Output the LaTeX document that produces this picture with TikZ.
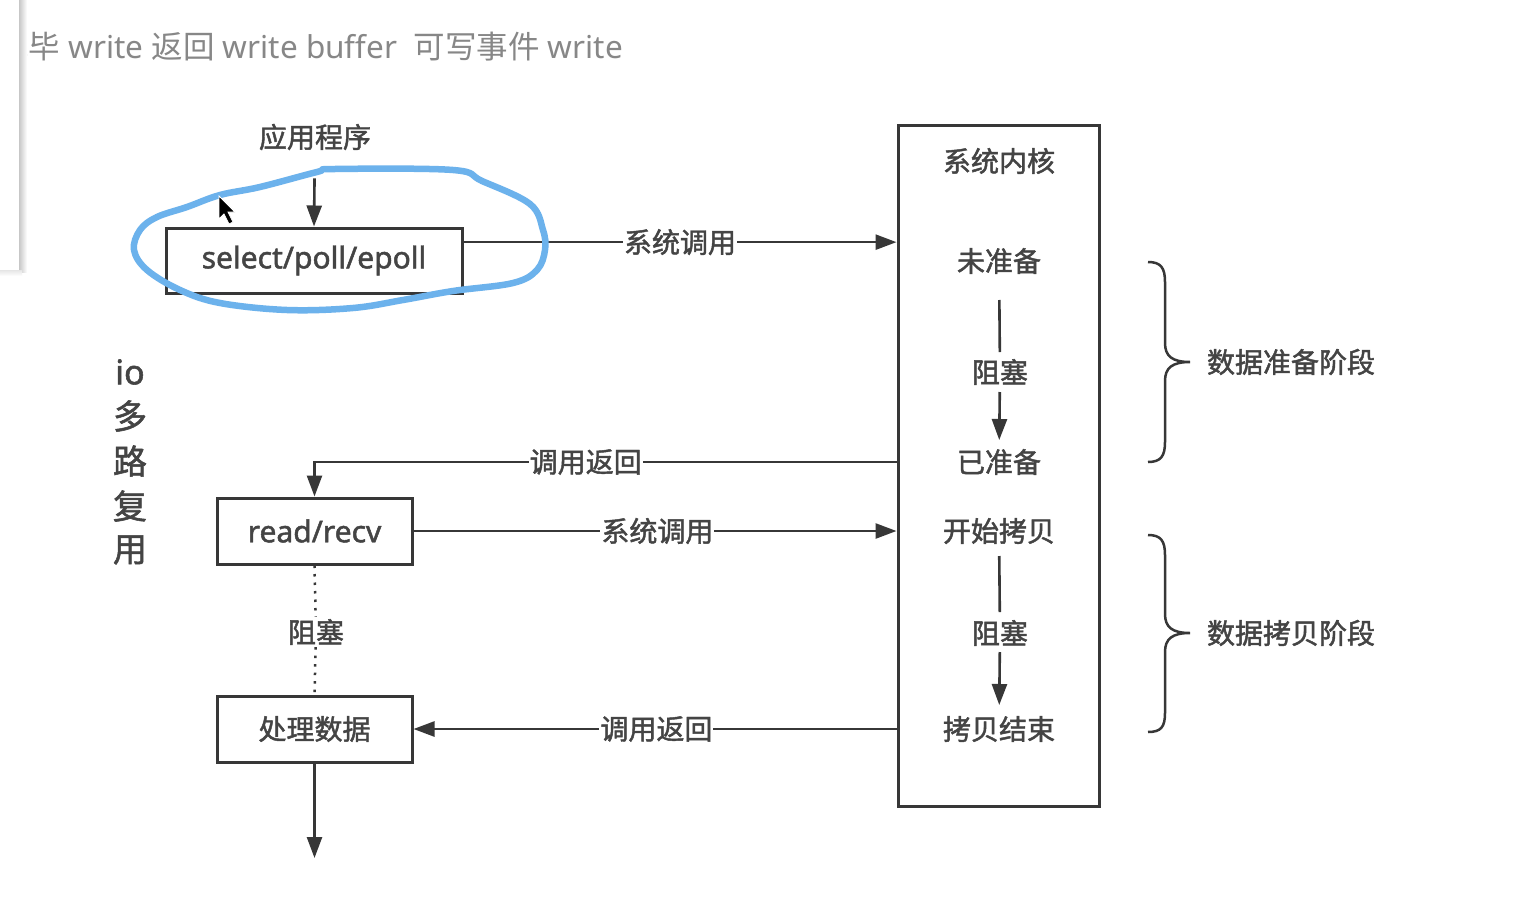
\documentclass[tikz,border=0pt]{standalone}
\usepackage{fontspec}
\setmainfont{Noto Sans CJK SC}
\newfontfamily\dia{Noto Sans CJK SC}[FakeBold=1.6]
\newfontfamily\dialat{Noto Sans}[FakeBold=1.6]
\newfontfamily\toplat{Noto Sans}
\usetikzlibrary{arrows.meta,calc}
\definecolor{ln}{RGB}{55,55,55}
\definecolor{tx}{RGB}{68,68,68}
\definecolor{hl}{RGB}{108,178,236}
\definecolor{topgray}{RGB}{135,135,135}
\begin{document}
\begin{tikzpicture}[x=1pt,y=-1pt,
  lbl/.style={text=tx, font=\dia\fontsize{28}{32}\selectfont, inner sep=2pt},
  bigl/.style={text=tx, font=\dia\fontsize{34}{38}\selectfont, inner sep=1pt},
  box/.style={draw=ln, line width=3pt, fill=white, text=tx, font=\dia\fontsize{28}{32}\selectfont},
  conn/.style={draw=ln, line width=2.6pt},
  arr/.style={conn, -{Triangle[length=21pt,width=15pt]}},
  dotl/.style={draw=ln, line width=2.5pt, dash pattern=on 2.5pt off 6pt},
  onl/.style={lbl, fill=white, inner xsep=1pt, inner ysep=1pt},
  brc/.style={draw=ln, line width=2.5pt}]
\useasboundingbox (0,0) rectangle (1528,918);
\fill[white] (0,0) rectangle (1528,918);
% top gray text, partly hidden behind a panel
\node[anchor=west, inner sep=0pt, text=topgray, font=\fontsize{31.5}{36}\selectfont] (top) at (-3,46)
  {完毕{\toplat\ write }返回{\toplat\ write buffer\ \ }可写事件{\toplat\ write}};
\fill[white] (0,0) rectangle (21,272);
\shade[left color=black!22, right color=white] (19,0) rectangle (27,272);
\shade[top color=black!10, bottom color=white] (0,270) rectangle (22,276);
% vertical title
\node[bigl] (t1) at (130,372) {{\dialat io}};
\node[bigl] (t2) at (130,416) {多};
\node[bigl] (t3) at (130,461) {路};
\node[bigl] (t4) at (130,506) {复};
\node[bigl] (t5) at (130,550) {用};
% left column
\node[lbl] (app) at (315,137) {应用程序};
\node[box, minimum width=296pt, minimum height=65pt] (sel) at (314,260.5) {{\dialat\fontsize{30}{34}\selectfont select/poll/epoll}};
\node[box, minimum width=195pt, minimum height=66pt] (read) at (314.5,531) {{\dialat\fontsize{30}{34}\selectfont read/recv}};
\node[lbl] (zs3) at (316,632) {阻塞};
\node[box, minimum width=195pt, minimum height=66pt] (proc) at (314.5,729) {处理数据};
\coordinate (endp) at (314.5,858);
% kernel
\node[draw=ln, line width=3pt, minimum width=201pt, minimum height=681pt] (kern) at (998.5,465.5) {};
\node[lbl] (kt) at (999,161) {系统内核};
\node[lbl] (wzb) at (999,261) {未准备};
\node[lbl] (zs1) at (1000,372) {阻塞};
\node[lbl] (yzb) at (999,462) {已准备};
\node[lbl] (ksk) at (999,531) {开始拷贝};
\node[lbl] (zs2) at (1000,633) {阻塞};
\node[lbl] (kbjs) at (999,729) {拷贝结束};
\node[lbl] (p1) at (1291,362) {数据准备阶段};
\node[lbl] (p2) at (1291,633) {数据拷贝阶段};
% connectors
\draw[arr, shorten <=26pt] (app) -- (sel.north);
\coordinate (s1) at ($(sel.north east)!0.23!(sel.south east)$);
\draw[arr] (s1) -- (s1 -| kern.west) node[onl, pos=0.5] {系统调用};
\draw[arr] (yzb -| kern.west) -| (read.north) node[onl, pos=0.267] {调用返回};
\draw[arr] (read.east) -- (read.east -| kern.west) node[onl, pos=0.505] {系统调用};
\draw[dotl] (read.south) -- (zs3);
\draw[dotl] (zs3) -- (proc.north);
\draw[arr] (kbjs -| kern.west) -- (proc.east) node[onl, pos=0.497] {调用返回};
\draw[arr] (proc.south) -- (endp);
\draw[conn, shorten <=39pt, shorten >=20pt] (wzb.center) -- (zs1.center);
\draw[arr, shorten <=20pt, shorten >=22pt] (zs1.center) -- (yzb.center);
\draw[conn, shorten <=25pt, shorten >=21pt] (ksk.center) -- (zs2.center);
\draw[arr, shorten <=19pt, shorten >=24pt] (zs2.center) -- (kbjs.center);
% braces
\draw[brc] (1148,262) .. controls (1161,262) and (1165,268) .. (1165,282) -- (1165,343)
  .. controls (1165,356) and (1172,362) .. (1190,362)
  .. controls (1172,362) and (1165,368) .. (1165,381) -- (1165,442)
  .. controls (1165,456) and (1161,462) .. (1148,462);
\draw[brc] (1148,535) .. controls (1161,535) and (1165,541) .. (1165,555) -- (1165,614)
  .. controls (1165,627) and (1172,633) .. (1190,633)
  .. controls (1172,633) and (1165,639) .. (1165,652) -- (1165,713)
  .. controls (1165,727) and (1161,732) .. (1148,732);
% hand-drawn highlight loop
\draw[hl, line width=6.5pt, line join=round] plot[smooth cycle, tension=0.6] coordinates {
 (220,195) (260,187) (317,172) (335,169) (453,170) (482,181) (530,204) (543,230) (545,250)
 (537,270) (513,283) (453,291) (403,300) (353,308) (287,310) (220,303) (180,290) (147,270)
 (134,250) (140,230) (157,217) (187,207)};
% mouse pointer
\filldraw[fill=black, draw=white, line width=0.8pt] (219,196) -- (219,219) -- (224,214) -- (229,224) -- (233,222) -- (228,212) -- (235,212) -- cycle;
\end{tikzpicture}
\end{document}
